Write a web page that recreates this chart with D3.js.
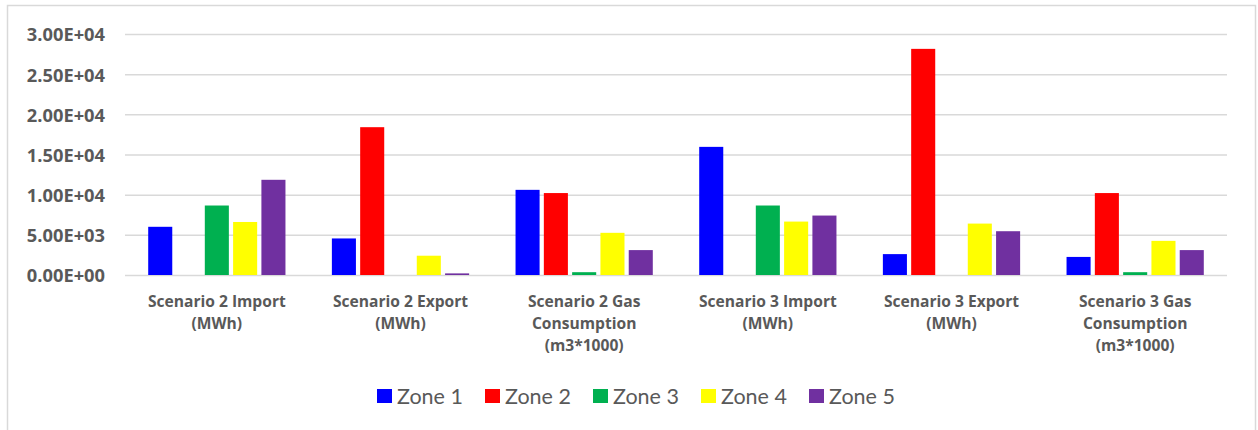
<!DOCTYPE html>
<html>
<head>
<meta charset="utf-8">
<script src="https://cdn.jsdelivr.net/npm/d3@7"></script>
<style>
  body { margin: 0; background: #fff; }
  text { font-family: Lato, "Open Sans", sans-serif; fill: #595959; }
  .tick_y { font-family: "Open Sans", sans-serif; font-size: 18.3px; font-weight: bold; }
  .tick_x { font-family: "Open Sans", sans-serif; font-size: 15.6px; font-weight: bold; }
  .legend_text { font-size: 21.5px; }
</style>
</head>
<body>
<script>
    const CANVAS = { WIDTH: 1258, HEIGHT: 430 };
    const PLOT = { LEFT: 125, RIGHT: 1227, TOP: 34, BOTTOM: 275 };

    // data
    const CATEGORIES = [
        "Scenario 2 Import\n(MWh)",
        "Scenario 2 Export\n(MWh)",
        "Scenario 2 Gas\nConsumption\n(m3*1000)",
        "Scenario 3 Import\n(MWh)",
        "Scenario 3 Export\n(MWh)",
        "Scenario 3 Gas\nConsumption\n(m3*1000)"
    ];
    const ZONES = ["Zone 1", "Zone 2", "Zone 3", "Zone 4", "Zone 5"];
    const COLORS = ["#0000ff", "#ff0000", "#00b050", "#ffff00", "#7030a0"];

    const ZONE1 = [6000, 4550, 10600, 15950, 2600, 2250];
    const ZONE2 = [0, 18400, 10200, 0, 28150, 10200];
    const ZONE3 = [8650, 0, 350, 8650, 0, 350];
    const ZONE4 = [6600, 2400, 5250, 6650, 6400, 4250];
    const ZONE5 = [11850, 200, 3100, 7400, 5450, 3100];

    const Y_TICKS = [0, 5000, 10000, 15000, 20000, 25000, 30000];

    var series = [ZONE1, ZONE2, ZONE3, ZONE4, ZONE5];

    var canvas = d3.select("body")
        .append("svg")
        .attr("width", CANVAS.WIDTH)
        .attr("height", CANVAS.HEIGHT);

    // chart frame
    canvas.append("rect")
        .attr("x", 7.5)
        .attr("y", 5.5)
        .attr("width", 1248)
        .attr("height", 440)
        .attr("fill", "none")
        .attr("stroke", "#d9d9d9")
        .attr("stroke-width", 1.5);

    var x0 = d3.scaleBand()
        .domain(d3.range(CATEGORIES.length))
        .range([PLOT.LEFT, PLOT.RIGHT]);

    var x1 = d3.scaleBand()
        .domain(d3.range(ZONES.length))
        .range([0, x0.bandwidth()])
        .paddingInner(0.15)
        .paddingOuter(0.82);

    var y = d3.scaleLinear()
        .domain([0, 30000])
        .range([PLOT.BOTTOM, PLOT.TOP]);

    // gridlines + y labels
    var axisY = d3.axisLeft(y)
        .tickValues(Y_TICKS)
        .tickSize(-(PLOT.RIGHT - PLOT.LEFT))
        .tickPadding(20)
        .tickFormat(function(d) {
            var s = d3.format(".2e")(d).toUpperCase();
            return s.replace(/E([+-])(\d)$/, "E$10$2");
        });

    var gy = canvas.append("g")
        .attr("transform", "translate(" + PLOT.LEFT + ",0)")
        .call(axisY);
    gy.select(".domain").remove();
    gy.selectAll("line")
        .attr("stroke", "#d9d9d9")
        .attr("stroke-width", 1.5);
    gy.selectAll("text")
        .attr("class", "tick_y")
        .attr("dy", "0.38em")
        .attr("fill", "#595959");

    // bars
    var groups = canvas.append("g")
        .selectAll("g")
        .data(series)
        .enter()
        .append("g")
        .attr("fill", function(d, i) { return COLORS[i]; });

    groups.each(function(vals, zi) {
        d3.select(this).selectAll("rect")
            .data(vals)
            .enter()
            .append("rect")
            .attr("x", function(d, ci) { return x0(ci) + x1(zi); })
            .attr("width", x1.bandwidth())
            .attr("y", function(d) { return y(d); })
            .attr("height", function(d) { return y(0) - y(d); });
    });

    // category labels
    var gx = canvas.append("g");
    CATEGORIES.forEach(function(label, ci) {
        var t = gx.append("text")
            .attr("class", "tick_x")
            .attr("text-anchor", "middle")
            .attr("x", x0(ci) + x0.bandwidth() / 2)
            .attr("y", PLOT.BOTTOM + 32);
        label.split("\n").forEach(function(line, li) {
            t.append("tspan")
                .attr("x", x0(ci) + x0.bandwidth() / 2)
                .attr("dy", li === 0 ? 0 : 22)
                .text(line);
        });
    });

    // legend
    var legend = canvas.append("g")
        .attr("transform", "translate(377,389)");

    var item = legend.selectAll("g")
        .data(ZONES)
        .enter()
        .append("g")
        .attr("transform", function(d, i) { return "translate(" + (i * 108) + ",0)"; });

    item.append("rect")
        .attr("width", 15)
        .attr("height", 14)
        .attr("fill", function(d, i) { return COLORS[i]; });

    item.append("text")
        .attr("class", "legend_text")
        .attr("x", 20)
        .attr("y", 14.5)
        .text(function(d) { return d; });
</script>
</body>
</html>
